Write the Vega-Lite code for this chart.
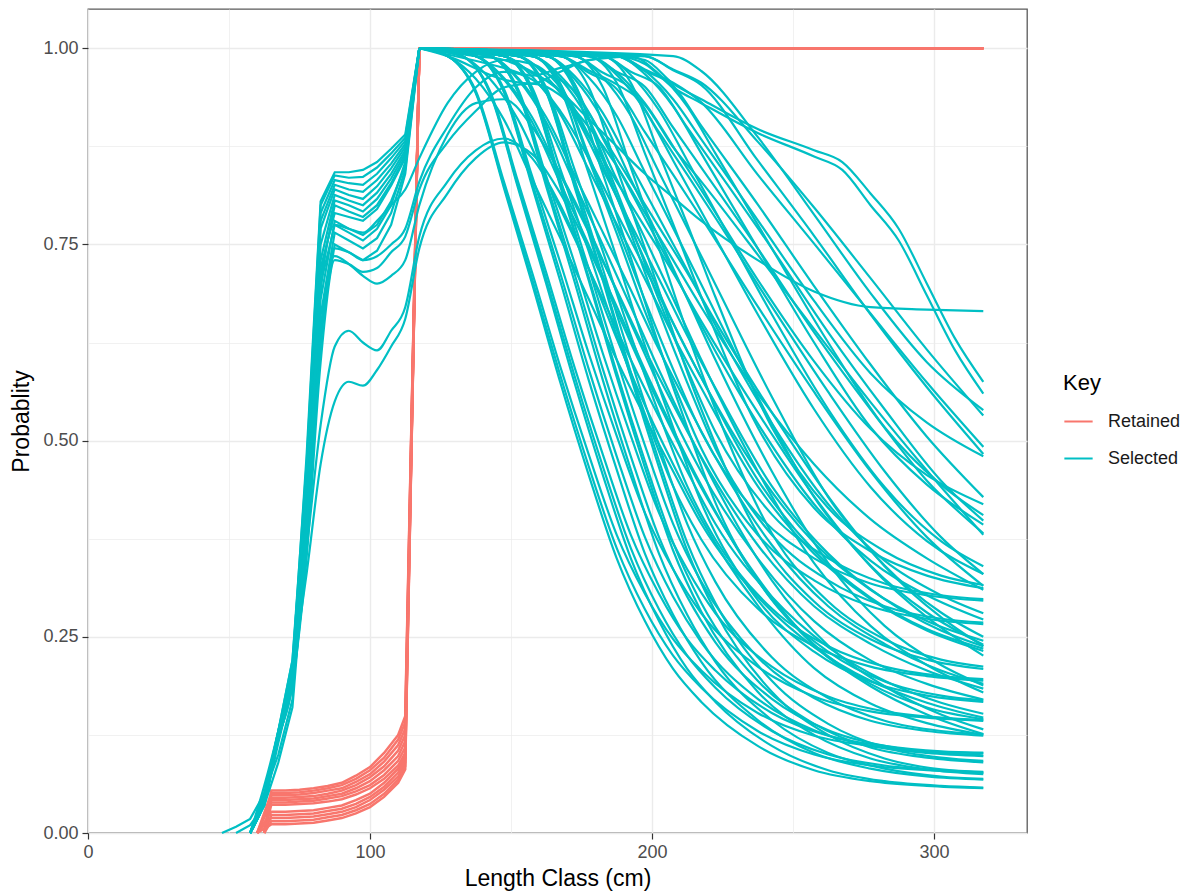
{
"$schema":"https://vega.github.io/schema/vega-lite/v6.json",
"width":939,"height":824,
"autosize":{"type":"none"},
"padding":{"left":88,"top":9,"right":165,"bottom":59},
"background":"white",
"config":{
"view":{"stroke":"#5a5a5a","strokeWidth":1.3},
"font":"Liberation Sans",
"axis":{"labelFont":"Liberation Sans","titleFont":"Liberation Sans","labelFontSize":18,"labelColor":"#4d4d4d","titleFontSize":23,"titleFontWeight":"normal","titleColor":"#000000","tickColor":"#333333","tickWidth":1.2,"tickSize":6,"domain":false,"gridColor":"#ebebeb","labelFlush":false}
},
"datasets":{
"ret":[
{"g":1,"x":62.5,"y":0},{"g":1,"x":65,"y":0.054},{"g":1,"x":70,"y":0.054},{"g":1,"x":75,"y":0.055},{"g":1,"x":80,"y":0.057},{"g":1,"x":85,"y":0.06},{"g":1,"x":90,"y":0.064},{"g":1,"x":95,"y":0.073},{"g":1,"x":100,"y":0.084},{"g":1,"x":105,"y":0.102},{"g":1,"x":110,"y":0.125},{"g":1,"x":112.5,"y":0.149},{"g":1,"x":117.5,"y":1},{"g":1,"x":317.5,"y":1},
{"g":2,"x":60,"y":0},{"g":2,"x":65,"y":0.051},{"g":2,"x":70,"y":0.051},{"g":2,"x":75,"y":0.052},{"g":2,"x":80,"y":0.054},{"g":2,"x":85,"y":0.057},{"g":2,"x":90,"y":0.061},{"g":2,"x":95,"y":0.069},{"g":2,"x":100,"y":0.08},{"g":2,"x":105,"y":0.096},{"g":2,"x":110,"y":0.119},{"g":2,"x":112.5,"y":0.141},{"g":2,"x":117.5,"y":1},{"g":2,"x":317.5,"y":1},
{"g":3,"x":62.5,"y":0},{"g":3,"x":65,"y":0.048},{"g":3,"x":70,"y":0.048},{"g":3,"x":75,"y":0.049},{"g":3,"x":80,"y":0.051},{"g":3,"x":85,"y":0.054},{"g":3,"x":90,"y":0.057},{"g":3,"x":95,"y":0.065},{"g":3,"x":100,"y":0.075},{"g":3,"x":105,"y":0.091},{"g":3,"x":110,"y":0.112},{"g":3,"x":112.5,"y":0.133},{"g":3,"x":117.5,"y":1},{"g":3,"x":317.5,"y":1},
{"g":4,"x":60,"y":0},{"g":4,"x":65,"y":0.045},{"g":4,"x":70,"y":0.045},{"g":4,"x":75,"y":0.046},{"g":4,"x":80,"y":0.047},{"g":4,"x":85,"y":0.05},{"g":4,"x":90,"y":0.054},{"g":4,"x":95,"y":0.061},{"g":4,"x":100,"y":0.071},{"g":4,"x":105,"y":0.085},{"g":4,"x":110,"y":0.105},{"g":4,"x":112.5,"y":0.125},{"g":4,"x":117.5,"y":1},{"g":4,"x":317.5,"y":1},
{"g":5,"x":62.5,"y":0},{"g":5,"x":65,"y":0.042},{"g":5,"x":70,"y":0.042},{"g":5,"x":75,"y":0.043},{"g":5,"x":80,"y":0.044},{"g":5,"x":85,"y":0.047},{"g":5,"x":90,"y":0.05},{"g":5,"x":95,"y":0.057},{"g":5,"x":100,"y":0.066},{"g":5,"x":105,"y":0.08},{"g":5,"x":110,"y":0.098},{"g":5,"x":112.5,"y":0.117},{"g":5,"x":117.5,"y":1},{"g":5,"x":317.5,"y":1},
{"g":6,"x":60,"y":0},{"g":6,"x":65,"y":0.039},{"g":6,"x":70,"y":0.039},{"g":6,"x":75,"y":0.04},{"g":6,"x":80,"y":0.041},{"g":6,"x":85,"y":0.044},{"g":6,"x":90,"y":0.047},{"g":6,"x":95,"y":0.053},{"g":6,"x":100,"y":0.061},{"g":6,"x":105,"y":0.074},{"g":6,"x":110,"y":0.092},{"g":6,"x":112.5,"y":0.109},{"g":6,"x":117.5,"y":1},{"g":6,"x":317.5,"y":1},
{"g":7,"x":62.5,"y":0},{"g":7,"x":65,"y":0.036},{"g":7,"x":70,"y":0.036},{"g":7,"x":75,"y":0.037},{"g":7,"x":80,"y":0.038},{"g":7,"x":85,"y":0.04},{"g":7,"x":90,"y":0.043},{"g":7,"x":95,"y":0.049},{"g":7,"x":100,"y":0.057},{"g":7,"x":105,"y":0.069},{"g":7,"x":110,"y":0.086},{"g":7,"x":112.5,"y":0.102},{"g":7,"x":117.5,"y":1},{"g":7,"x":317.5,"y":1},
{"g":8,"x":60,"y":0},{"g":8,"x":65,"y":0.027},{"g":8,"x":70,"y":0.027},{"g":8,"x":75,"y":0.028},{"g":8,"x":80,"y":0.029},{"g":8,"x":85,"y":0.032},{"g":8,"x":90,"y":0.035},{"g":8,"x":95,"y":0.042},{"g":8,"x":100,"y":0.05},{"g":8,"x":105,"y":0.064},{"g":8,"x":110,"y":0.082},{"g":8,"x":112.5,"y":0.1},{"g":8,"x":117.5,"y":1},{"g":8,"x":317.5,"y":1},
{"g":9,"x":62.5,"y":0},{"g":9,"x":65,"y":0.023},{"g":9,"x":70,"y":0.023},{"g":9,"x":75,"y":0.024},{"g":9,"x":80,"y":0.025},{"g":9,"x":85,"y":0.028},{"g":9,"x":90,"y":0.031},{"g":9,"x":95,"y":0.037},{"g":9,"x":100,"y":0.046},{"g":9,"x":105,"y":0.059},{"g":9,"x":110,"y":0.077},{"g":9,"x":112.5,"y":0.095},{"g":9,"x":117.5,"y":1},{"g":9,"x":317.5,"y":1},
{"g":10,"x":60,"y":0},{"g":10,"x":65,"y":0.019},{"g":10,"x":70,"y":0.019},{"g":10,"x":75,"y":0.02},{"g":10,"x":80,"y":0.021},{"g":10,"x":85,"y":0.024},{"g":10,"x":90,"y":0.027},{"g":10,"x":95,"y":0.033},{"g":10,"x":100,"y":0.042},{"g":10,"x":105,"y":0.055},{"g":10,"x":110,"y":0.072},{"g":10,"x":112.5,"y":0.09},{"g":10,"x":117.5,"y":1},{"g":10,"x":317.5,"y":1},
{"g":11,"x":62.5,"y":0},{"g":11,"x":65,"y":0.015},{"g":11,"x":70,"y":0.015},{"g":11,"x":75,"y":0.016},{"g":11,"x":80,"y":0.017},{"g":11,"x":85,"y":0.02},{"g":11,"x":90,"y":0.023},{"g":11,"x":95,"y":0.029},{"g":11,"x":100,"y":0.037},{"g":11,"x":105,"y":0.05},{"g":11,"x":110,"y":0.068},{"g":11,"x":112.5,"y":0.085},{"g":11,"x":117.5,"y":1},{"g":11,"x":317.5,"y":1},
{"g":12,"x":60,"y":0},{"g":12,"x":65,"y":0.011},{"g":12,"x":70,"y":0.011},{"g":12,"x":75,"y":0.012},{"g":12,"x":80,"y":0.013},{"g":12,"x":85,"y":0.016},{"g":12,"x":90,"y":0.019},{"g":12,"x":95,"y":0.025},{"g":12,"x":100,"y":0.033},{"g":12,"x":105,"y":0.046},{"g":12,"x":110,"y":0.064},{"g":12,"x":112.5,"y":0.081},{"g":12,"x":117.5,"y":1},{"g":12,"x":317.5,"y":1}
],
"left":[
{"g":1,"x":57.5,"y":0},{"g":1,"x":62.5,"y":0.04},{"g":1,"x":67.5,"y":0.125},{"g":1,"x":72.5,"y":0.21},{"g":1,"x":77.5,"y":0.48},{"g":1,"x":82.5,"y":0.805},{"g":1,"x":87.5,"y":0.842},{"g":1,"x":92.5,"y":0.842},{"g":1,"x":97.5,"y":0.845},{"g":1,"x":102.5,"y":0.855},{"g":1,"x":107.5,"y":0.872},{"g":1,"x":112.5,"y":0.89},{"g":1,"x":117.5,"y":1},
{"g":2,"x":57.5,"y":0},{"g":2,"x":62.5,"y":0.045},{"g":2,"x":67.5,"y":0.13},{"g":2,"x":72.5,"y":0.22},{"g":2,"x":77.5,"y":0.47},{"g":2,"x":82.5,"y":0.8},{"g":2,"x":87.5,"y":0.838},{"g":2,"x":92.5,"y":0.835},{"g":2,"x":97.5,"y":0.836},{"g":2,"x":102.5,"y":0.848},{"g":2,"x":107.5,"y":0.866},{"g":2,"x":112.5,"y":0.886},{"g":2,"x":117.5,"y":1},
{"g":3,"x":57.5,"y":0},{"g":3,"x":62.5,"y":0.035},{"g":3,"x":67.5,"y":0.12},{"g":3,"x":72.5,"y":0.2},{"g":3,"x":77.5,"y":0.46},{"g":3,"x":82.5,"y":0.79},{"g":3,"x":87.5,"y":0.832},{"g":3,"x":92.5,"y":0.828},{"g":3,"x":97.5,"y":0.826},{"g":3,"x":102.5,"y":0.84},{"g":3,"x":107.5,"y":0.86},{"g":3,"x":112.5,"y":0.882},{"g":3,"x":117.5,"y":1},
{"g":4,"x":57.5,"y":0},{"g":4,"x":62.5,"y":0.05},{"g":4,"x":67.5,"y":0.13},{"g":4,"x":72.5,"y":0.22},{"g":4,"x":77.5,"y":0.45},{"g":4,"x":82.5,"y":0.78},{"g":4,"x":87.5,"y":0.826},{"g":4,"x":92.5,"y":0.82},{"g":4,"x":97.5,"y":0.817},{"g":4,"x":102.5,"y":0.832},{"g":4,"x":107.5,"y":0.853},{"g":4,"x":112.5,"y":0.878},{"g":4,"x":117.5,"y":1},
{"g":5,"x":57.5,"y":0},{"g":5,"x":62.5,"y":0.04},{"g":5,"x":67.5,"y":0.12},{"g":5,"x":72.5,"y":0.2},{"g":5,"x":77.5,"y":0.44},{"g":5,"x":82.5,"y":0.77},{"g":5,"x":87.5,"y":0.82},{"g":5,"x":92.5,"y":0.813},{"g":5,"x":97.5,"y":0.808},{"g":5,"x":102.5,"y":0.824},{"g":5,"x":107.5,"y":0.847},{"g":5,"x":112.5,"y":0.874},{"g":5,"x":117.5,"y":1},
{"g":6,"x":57.5,"y":0},{"g":6,"x":62.5,"y":0.045},{"g":6,"x":67.5,"y":0.125},{"g":6,"x":72.5,"y":0.21},{"g":6,"x":77.5,"y":0.43},{"g":6,"x":82.5,"y":0.75},{"g":6,"x":87.5,"y":0.813},{"g":6,"x":92.5,"y":0.806},{"g":6,"x":97.5,"y":0.8},{"g":6,"x":102.5,"y":0.816},{"g":6,"x":107.5,"y":0.84},{"g":6,"x":112.5,"y":0.87},{"g":6,"x":117.5,"y":1},
{"g":7,"x":57.5,"y":0},{"g":7,"x":62.5,"y":0.035},{"g":7,"x":67.5,"y":0.115},{"g":7,"x":72.5,"y":0.19},{"g":7,"x":77.5,"y":0.41},{"g":7,"x":82.5,"y":0.73},{"g":7,"x":87.5,"y":0.806},{"g":7,"x":92.5,"y":0.8},{"g":7,"x":97.5,"y":0.792},{"g":7,"x":102.5,"y":0.808},{"g":7,"x":107.5,"y":0.834},{"g":7,"x":112.5,"y":0.866},{"g":7,"x":117.5,"y":1},
{"g":8,"x":57.5,"y":0},{"g":8,"x":62.5,"y":0.04},{"g":8,"x":67.5,"y":0.12},{"g":8,"x":72.5,"y":0.2},{"g":8,"x":77.5,"y":0.4},{"g":8,"x":82.5,"y":0.71},{"g":8,"x":87.5,"y":0.8},{"g":8,"x":92.5,"y":0.792},{"g":8,"x":97.5,"y":0.785},{"g":8,"x":102.5,"y":0.8},{"g":8,"x":107.5,"y":0.828},{"g":8,"x":112.5,"y":0.862},{"g":8,"x":117.5,"y":1},
{"g":9,"x":57.5,"y":0},{"g":9,"x":62.5,"y":0.045},{"g":9,"x":67.5,"y":0.125},{"g":9,"x":72.5,"y":0.2},{"g":9,"x":77.5,"y":0.39},{"g":9,"x":82.5,"y":0.68},{"g":9,"x":87.5,"y":0.78},{"g":9,"x":92.5,"y":0.77},{"g":9,"x":97.5,"y":0.762},{"g":9,"x":102.5,"y":0.775},{"g":9,"x":107.5,"y":0.805},{"g":9,"x":112.5,"y":0.85},{"g":9,"x":117.5,"y":1},
{"g":10,"x":57.5,"y":0},{"g":10,"x":62.5,"y":0.04},{"g":10,"x":67.5,"y":0.12},{"g":10,"x":72.5,"y":0.19},{"g":10,"x":77.5,"y":0.38},{"g":10,"x":82.5,"y":0.66},{"g":10,"x":87.5,"y":0.765},{"g":10,"x":92.5,"y":0.755},{"g":10,"x":97.5,"y":0.745},{"g":10,"x":102.5,"y":0.758},{"g":10,"x":107.5,"y":0.79},{"g":10,"x":112.5,"y":0.845},{"g":10,"x":117.5,"y":1},
{"g":11,"x":57.5,"y":0},{"g":11,"x":62.5,"y":0.045},{"g":11,"x":67.5,"y":0.12},{"g":11,"x":72.5,"y":0.19},{"g":11,"x":77.5,"y":0.37},{"g":11,"x":82.5,"y":0.64},{"g":11,"x":87.5,"y":0.75},{"g":11,"x":92.5,"y":0.74},{"g":11,"x":97.5,"y":0.73},{"g":11,"x":102.5,"y":0.742},{"g":11,"x":107.5,"y":0.775},{"g":11,"x":112.5,"y":0.84},{"g":11,"x":117.5,"y":1},
{"g":12,"x":47.5,"y":0},{"g":12,"x":52.5,"y":0.008},{"g":12,"x":57.5,"y":0.018},{"g":12,"x":62.5,"y":0.05},{"g":12,"x":67.5,"y":0.1},{"g":12,"x":72.5,"y":0.17},{"g":12,"x":77.5,"y":0.4},{"g":12,"x":82.5,"y":0.72},{"g":12,"x":87.5,"y":0.79},{"g":12,"x":92.5,"y":0.785},{"g":12,"x":97.5,"y":0.78},{"g":12,"x":102.5,"y":0.795},{"g":12,"x":107.5,"y":0.825},{"g":12,"x":112.5,"y":0.86},{"g":12,"x":117.5,"y":1},
{"g":13,"x":52.5,"y":0},{"g":13,"x":57.5,"y":0.01},{"g":13,"x":62.5,"y":0.035},{"g":13,"x":67.5,"y":0.09},{"g":13,"x":72.5,"y":0.16},{"g":13,"x":77.5,"y":0.38},{"g":13,"x":82.5,"y":0.7},{"g":13,"x":87.5,"y":0.775},{"g":13,"x":92.5,"y":0.765},{"g":13,"x":97.5,"y":0.755},{"g":13,"x":102.5,"y":0.77},{"g":13,"x":107.5,"y":0.8},{"g":13,"x":112.5,"y":0.855},{"g":13,"x":117.5,"y":1}
],
"full":[
{"g":1,"x":57.5,"y":0},{"g":1,"x":62.5,"y":0.04},{"g":1,"x":67.5,"y":0.12},{"g":1,"x":72.5,"y":0.19},{"g":1,"x":77.5,"y":0.37},{"g":1,"x":82.5,"y":0.64},{"g":1,"x":87.5,"y":0.735},{"g":1,"x":92.5,"y":0.725},{"g":1,"x":97.5,"y":0.71},{"g":1,"x":102.5,"y":0.7},{"g":1,"x":107.5,"y":0.71},{"g":1,"x":112.5,"y":0.73},{"g":1,"x":117.5,"y":0.8},{"g":1,"x":127.5,"y":0.89},{"g":1,"x":137.5,"y":0.93},{"g":1,"x":147.5,"y":0.935},{"g":1,"x":157.5,"y":0.9},{"g":1,"x":167.5,"y":0.84},{"g":1,"x":177.5,"y":0.77},{"g":1,"x":187.5,"y":0.69},{"g":1,"x":197.5,"y":0.61},{"g":1,"x":207.5,"y":0.53},{"g":1,"x":217.5,"y":0.46},{"g":1,"x":237.5,"y":0.35},{"g":1,"x":257.5,"y":0.27},{"g":1,"x":277.5,"y":0.22},{"g":1,"x":297.5,"y":0.19},{"g":1,"x":317.5,"y":0.17},
{"g":2,"x":57.5,"y":0},{"g":2,"x":62.5,"y":0.04},{"g":2,"x":67.5,"y":0.12},{"g":2,"x":72.5,"y":0.19},{"g":2,"x":77.5,"y":0.36},{"g":2,"x":82.5,"y":0.62},{"g":2,"x":87.5,"y":0.745},{"g":2,"x":92.5,"y":0.74},{"g":2,"x":97.5,"y":0.73},{"g":2,"x":102.5,"y":0.735},{"g":2,"x":107.5,"y":0.75},{"g":2,"x":112.5,"y":0.77},{"g":2,"x":117.5,"y":0.83},{"g":2,"x":127.5,"y":0.9},{"g":2,"x":137.5,"y":0.95},{"g":2,"x":147.5,"y":0.97},{"g":2,"x":157.5,"y":0.96},{"g":2,"x":167.5,"y":0.92},{"g":2,"x":177.5,"y":0.86},{"g":2,"x":187.5,"y":0.79},{"g":2,"x":197.5,"y":0.72},{"g":2,"x":207.5,"y":0.65},{"g":2,"x":217.5,"y":0.58},{"g":2,"x":237.5,"y":0.46},{"g":2,"x":257.5,"y":0.37},{"g":2,"x":277.5,"y":0.31},{"g":2,"x":297.5,"y":0.27},{"g":2,"x":317.5,"y":0.245},
{"g":3,"x":57.5,"y":0},{"g":3,"x":62.5,"y":0.04},{"g":3,"x":67.5,"y":0.12},{"g":3,"x":72.5,"y":0.19},{"g":3,"x":77.5,"y":0.35},{"g":3,"x":82.5,"y":0.6},{"g":3,"x":87.5,"y":0.73},{"g":3,"x":92.5,"y":0.725},{"g":3,"x":97.5,"y":0.715},{"g":3,"x":102.5,"y":0.72},{"g":3,"x":107.5,"y":0.74},{"g":3,"x":112.5,"y":0.76},{"g":3,"x":117.5,"y":0.82},{"g":3,"x":127.5,"y":0.88},{"g":3,"x":137.5,"y":0.92},{"g":3,"x":147.5,"y":0.95},{"g":3,"x":157.5,"y":0.955},{"g":3,"x":167.5,"y":0.94},{"g":3,"x":177.5,"y":0.9},{"g":3,"x":187.5,"y":0.85},{"g":3,"x":197.5,"y":0.79},{"g":3,"x":207.5,"y":0.73},{"g":3,"x":217.5,"y":0.67},{"g":3,"x":237.5,"y":0.56},{"g":3,"x":257.5,"y":0.47},{"g":3,"x":277.5,"y":0.4},{"g":3,"x":297.5,"y":0.35},{"g":3,"x":317.5,"y":0.31},
{"g":4,"x":57.5,"y":0},{"g":4,"x":62.5,"y":0.05},{"g":4,"x":67.5,"y":0.13},{"g":4,"x":72.5,"y":0.21},{"g":4,"x":77.5,"y":0.36},{"g":4,"x":82.5,"y":0.52},{"g":4,"x":87.5,"y":0.62},{"g":4,"x":92.5,"y":0.64},{"g":4,"x":97.5,"y":0.625},{"g":4,"x":102.5,"y":0.615},{"g":4,"x":107.5,"y":0.64},{"g":4,"x":112.5,"y":0.67},{"g":4,"x":117.5,"y":0.76},{"g":4,"x":127.5,"y":0.83},{"g":4,"x":137.5,"y":0.87},{"g":4,"x":147.5,"y":0.885},{"g":4,"x":157.5,"y":0.86},{"g":4,"x":167.5,"y":0.8},{"g":4,"x":177.5,"y":0.72},{"g":4,"x":187.5,"y":0.63},{"g":4,"x":197.5,"y":0.545},{"g":4,"x":207.5,"y":0.47},{"g":4,"x":217.5,"y":0.4},{"g":4,"x":237.5,"y":0.29},{"g":4,"x":257.5,"y":0.21},{"g":4,"x":277.5,"y":0.165},{"g":4,"x":297.5,"y":0.14},{"g":4,"x":317.5,"y":0.125},
{"g":5,"x":57.5,"y":0},{"g":5,"x":62.5,"y":0.06},{"g":5,"x":67.5,"y":0.13},{"g":5,"x":72.5,"y":0.21},{"g":5,"x":77.5,"y":0.33},{"g":5,"x":82.5,"y":0.47},{"g":5,"x":87.5,"y":0.55},{"g":5,"x":92.5,"y":0.575},{"g":5,"x":97.5,"y":0.57},{"g":5,"x":102.5,"y":0.59},{"g":5,"x":107.5,"y":0.62},{"g":5,"x":112.5,"y":0.655},{"g":5,"x":117.5,"y":0.745},{"g":5,"x":127.5,"y":0.815},{"g":5,"x":137.5,"y":0.86},{"g":5,"x":147.5,"y":0.88},{"g":5,"x":157.5,"y":0.865},{"g":5,"x":167.5,"y":0.815},{"g":5,"x":177.5,"y":0.745},{"g":5,"x":187.5,"y":0.665},{"g":5,"x":197.5,"y":0.585},{"g":5,"x":207.5,"y":0.51},{"g":5,"x":217.5,"y":0.44},{"g":5,"x":237.5,"y":0.325},{"g":5,"x":257.5,"y":0.24},{"g":5,"x":277.5,"y":0.19},{"g":5,"x":297.5,"y":0.16},{"g":5,"x":317.5,"y":0.145},
{"g":6,"x":57.5,"y":0},{"g":6,"x":62.5,"y":0.045},{"g":6,"x":67.5,"y":0.125},{"g":6,"x":72.5,"y":0.2},{"g":6,"x":77.5,"y":0.39},{"g":6,"x":82.5,"y":0.69},{"g":6,"x":87.5,"y":0.775},{"g":6,"x":92.5,"y":0.77},{"g":6,"x":97.5,"y":0.765},{"g":6,"x":102.5,"y":0.78},{"g":6,"x":107.5,"y":0.8},{"g":6,"x":112.5,"y":0.82},{"g":6,"x":117.5,"y":0.86},{"g":6,"x":127.5,"y":0.93},{"g":6,"x":137.5,"y":0.97},{"g":6,"x":147.5,"y":0.985},{"g":6,"x":157.5,"y":0.98},{"g":6,"x":167.5,"y":0.95},{"g":6,"x":177.5,"y":0.89},{"g":6,"x":187.5,"y":0.81},{"g":6,"x":197.5,"y":0.73},{"g":6,"x":207.5,"y":0.65},{"g":6,"x":217.5,"y":0.58},{"g":6,"x":237.5,"y":0.45},{"g":6,"x":257.5,"y":0.36},{"g":6,"x":277.5,"y":0.3},{"g":6,"x":297.5,"y":0.26},{"g":6,"x":317.5,"y":0.235}
],
"right":[
{"g":1,"x":117.5,"y":1},{"g":1,"x":127.5,"y":0.99},{"g":1,"x":137.5,"y":0.943},{"g":1,"x":147.5,"y":0.822},{"g":1,"x":157.5,"y":0.7},{"g":1,"x":167.5,"y":0.574},{"g":1,"x":177.5,"y":0.457},{"g":1,"x":187.5,"y":0.35},{"g":1,"x":197.5,"y":0.27},{"g":1,"x":207.5,"y":0.209},{"g":1,"x":217.5,"y":0.167},{"g":1,"x":237.5,"y":0.111},{"g":1,"x":257.5,"y":0.08},{"g":1,"x":277.5,"y":0.066},{"g":1,"x":297.5,"y":0.06},{"g":1,"x":317.5,"y":0.057},
{"g":2,"x":117.5,"y":1},{"g":2,"x":127.5,"y":0.99},{"g":2,"x":137.5,"y":0.944},{"g":2,"x":147.5,"y":0.825},{"g":2,"x":157.5,"y":0.706},{"g":2,"x":167.5,"y":0.583},{"g":2,"x":177.5,"y":0.468},{"g":2,"x":187.5,"y":0.363},{"g":2,"x":197.5,"y":0.285},{"g":2,"x":207.5,"y":0.226},{"g":2,"x":217.5,"y":0.185},{"g":2,"x":237.5,"y":0.13},{"g":2,"x":257.5,"y":0.1},{"g":2,"x":277.5,"y":0.086},{"g":2,"x":297.5,"y":0.08},{"g":2,"x":317.5,"y":0.077},
{"g":3,"x":117.5,"y":1},{"g":3,"x":137.5,"y":0.99},{"g":3,"x":147.5,"y":0.944},{"g":3,"x":157.5,"y":0.824},{"g":3,"x":167.5,"y":0.703},{"g":3,"x":177.5,"y":0.578},{"g":3,"x":187.5,"y":0.463},{"g":3,"x":197.5,"y":0.356},{"g":3,"x":207.5,"y":0.278},{"g":3,"x":217.5,"y":0.218},{"g":3,"x":237.5,"y":0.144},{"g":3,"x":257.5,"y":0.102},{"g":3,"x":277.5,"y":0.082},{"g":3,"x":297.5,"y":0.072},{"g":3,"x":317.5,"y":0.068},
{"g":4,"x":117.5,"y":1},{"g":4,"x":137.5,"y":0.99},{"g":4,"x":147.5,"y":0.945},{"g":4,"x":157.5,"y":0.829},{"g":4,"x":167.5,"y":0.713},{"g":4,"x":177.5,"y":0.592},{"g":4,"x":187.5,"y":0.48},{"g":4,"x":197.5,"y":0.377},{"g":4,"x":207.5,"y":0.301},{"g":4,"x":217.5,"y":0.243},{"g":4,"x":237.5,"y":0.171},{"g":4,"x":257.5,"y":0.131},{"g":4,"x":277.5,"y":0.111},{"g":4,"x":297.5,"y":0.102},{"g":4,"x":317.5,"y":0.098},
{"g":5,"x":117.5,"y":1},{"g":5,"x":147.5,"y":0.99},{"g":5,"x":157.5,"y":0.945},{"g":5,"x":167.5,"y":0.827},{"g":5,"x":177.5,"y":0.709},{"g":5,"x":187.5,"y":0.587},{"g":5,"x":197.5,"y":0.474},{"g":5,"x":207.5,"y":0.37},{"g":5,"x":217.5,"y":0.293},{"g":5,"x":237.5,"y":0.194},{"g":5,"x":257.5,"y":0.139},{"g":5,"x":277.5,"y":0.109},{"g":5,"x":297.5,"y":0.096},{"g":5,"x":317.5,"y":0.09},
{"g":6,"x":117.5,"y":1},{"g":6,"x":147.5,"y":0.99},{"g":6,"x":157.5,"y":0.947},{"g":6,"x":167.5,"y":0.833},{"g":6,"x":177.5,"y":0.72},{"g":6,"x":187.5,"y":0.603},{"g":6,"x":197.5,"y":0.494},{"g":6,"x":207.5,"y":0.394},{"g":6,"x":217.5,"y":0.32},{"g":6,"x":237.5,"y":0.224},{"g":6,"x":257.5,"y":0.172},{"g":6,"x":277.5,"y":0.143},{"g":6,"x":297.5,"y":0.13},{"g":6,"x":317.5,"y":0.124},
{"g":7,"x":117.5,"y":1},{"g":7,"x":127.5,"y":0.99},{"g":7,"x":137.5,"y":0.961},{"g":7,"x":147.5,"y":0.909},{"g":7,"x":157.5,"y":0.833},{"g":7,"x":167.5,"y":0.758},{"g":7,"x":177.5,"y":0.681},{"g":7,"x":187.5,"y":0.603},{"g":7,"x":197.5,"y":0.53},{"g":7,"x":207.5,"y":0.461},{"g":7,"x":217.5,"y":0.394},{"g":7,"x":237.5,"y":0.301},{"g":7,"x":257.5,"y":0.237},{"g":7,"x":277.5,"y":0.194},{"g":7,"x":297.5,"y":0.166},{"g":7,"x":317.5,"y":0.147},
{"g":8,"x":117.5,"y":1},{"g":8,"x":137.5,"y":0.99},{"g":8,"x":147.5,"y":0.962},{"g":8,"x":157.5,"y":0.912},{"g":8,"x":167.5,"y":0.839},{"g":8,"x":177.5,"y":0.766},{"g":8,"x":187.5,"y":0.692},{"g":8,"x":197.5,"y":0.616},{"g":8,"x":207.5,"y":0.546},{"g":8,"x":217.5,"y":0.479},{"g":8,"x":237.5,"y":0.367},{"g":8,"x":257.5,"y":0.289},{"g":8,"x":277.5,"y":0.241},{"g":8,"x":297.5,"y":0.207},{"g":8,"x":317.5,"y":0.184},
{"g":9,"x":117.5,"y":1},{"g":9,"x":157.5,"y":0.99},{"g":9,"x":167.5,"y":0.949},{"g":9,"x":177.5,"y":0.841},{"g":9,"x":187.5,"y":0.733},{"g":9,"x":197.5,"y":0.621},{"g":9,"x":207.5,"y":0.517},{"g":9,"x":217.5,"y":0.421},{"g":9,"x":237.5,"y":0.297},{"g":9,"x":257.5,"y":0.231},{"g":9,"x":277.5,"y":0.193},{"g":9,"x":297.5,"y":0.175},{"g":9,"x":317.5,"y":0.167},
{"g":10,"x":117.5,"y":1},{"g":10,"x":147.5,"y":0.99},{"g":10,"x":157.5,"y":0.964},{"g":10,"x":167.5,"y":0.916},{"g":10,"x":177.5,"y":0.846},{"g":10,"x":187.5,"y":0.776},{"g":10,"x":197.5,"y":0.706},{"g":10,"x":207.5,"y":0.634},{"g":10,"x":217.5,"y":0.567},{"g":10,"x":237.5,"y":0.442},{"g":10,"x":257.5,"y":0.356},{"g":10,"x":277.5,"y":0.298},{"g":10,"x":297.5,"y":0.258},{"g":10,"x":317.5,"y":0.232},
{"g":11,"x":117.5,"y":1},{"g":11,"x":137.5,"y":0.99},{"g":11,"x":147.5,"y":0.948},{"g":11,"x":157.5,"y":0.837},{"g":11,"x":167.5,"y":0.727},{"g":11,"x":177.5,"y":0.612},{"g":11,"x":187.5,"y":0.506},{"g":11,"x":197.5,"y":0.408},{"g":11,"x":207.5,"y":0.336},{"g":11,"x":217.5,"y":0.28},{"g":11,"x":237.5,"y":0.212},{"g":11,"x":257.5,"y":0.174},{"g":11,"x":277.5,"y":0.155},{"g":11,"x":297.5,"y":0.147},{"g":11,"x":317.5,"y":0.143},
{"g":12,"x":117.5,"y":1},{"g":12,"x":167.5,"y":0.99},{"g":12,"x":177.5,"y":0.951},{"g":12,"x":187.5,"y":0.848},{"g":12,"x":197.5,"y":0.745},{"g":12,"x":207.5,"y":0.638},{"g":12,"x":217.5,"y":0.54},{"g":12,"x":237.5,"y":0.382},{"g":12,"x":257.5,"y":0.295},{"g":12,"x":277.5,"y":0.247},{"g":12,"x":297.5,"y":0.221},{"g":12,"x":317.5,"y":0.209},
{"g":13,"x":117.5,"y":1},{"g":13,"x":157.5,"y":0.99},{"g":13,"x":167.5,"y":0.965},{"g":13,"x":177.5,"y":0.918},{"g":13,"x":187.5,"y":0.851},{"g":13,"x":197.5,"y":0.784},{"g":13,"x":207.5,"y":0.717},{"g":13,"x":217.5,"y":0.647},{"g":13,"x":237.5,"y":0.522},{"g":13,"x":257.5,"y":0.419},{"g":13,"x":277.5,"y":0.347},{"g":13,"x":297.5,"y":0.303},{"g":13,"x":317.5,"y":0.272},
{"g":14,"x":117.5,"y":1},{"g":14,"x":147.5,"y":0.99},{"g":14,"x":157.5,"y":0.968},{"g":14,"x":167.5,"y":0.946},{"g":14,"x":177.5,"y":0.888},{"g":14,"x":187.5,"y":0.83},{"g":14,"x":197.5,"y":0.772},{"g":14,"x":207.5,"y":0.714},{"g":14,"x":217.5,"y":0.652},{"g":14,"x":237.5,"y":0.536},{"g":14,"x":257.5,"y":0.429},{"g":14,"x":277.5,"y":0.34},{"g":14,"x":297.5,"y":0.275},{"g":14,"x":317.5,"y":0.226},
{"g":15,"x":117.5,"y":1},{"g":15,"x":177.5,"y":0.99},{"g":15,"x":187.5,"y":0.966},{"g":15,"x":197.5,"y":0.921},{"g":15,"x":207.5,"y":0.857},{"g":15,"x":217.5,"y":0.792},{"g":15,"x":237.5,"y":0.661},{"g":15,"x":257.5,"y":0.54},{"g":15,"x":277.5,"y":0.441},{"g":15,"x":297.5,"y":0.372},{"g":15,"x":317.5,"y":0.33},
{"g":16,"x":117.5,"y":1},{"g":16,"x":167.5,"y":0.99},{"g":16,"x":177.5,"y":0.969},{"g":16,"x":187.5,"y":0.948},{"g":16,"x":197.5,"y":0.893},{"g":16,"x":207.5,"y":0.839},{"g":16,"x":217.5,"y":0.784},{"g":16,"x":237.5,"y":0.671},{"g":16,"x":257.5,"y":0.562},{"g":16,"x":277.5,"y":0.461},{"g":16,"x":297.5,"y":0.377},{"g":16,"x":317.5,"y":0.315},
{"g":17,"x":117.5,"y":1},{"g":17,"x":187.5,"y":0.99},{"g":17,"x":197.5,"y":0.967},{"g":17,"x":207.5,"y":0.926},{"g":17,"x":217.5,"y":0.866},{"g":17,"x":237.5,"y":0.745},{"g":17,"x":257.5,"y":0.625},{"g":17,"x":277.5,"y":0.517},{"g":17,"x":297.5,"y":0.444},{"g":17,"x":317.5,"y":0.393},
{"g":18,"x":117.5,"y":1},{"g":18,"x":177.5,"y":0.99},{"g":18,"x":187.5,"y":0.97},{"g":18,"x":197.5,"y":0.951},{"g":18,"x":207.5,"y":0.899},{"g":18,"x":217.5,"y":0.848},{"g":18,"x":237.5,"y":0.745},{"g":18,"x":257.5,"y":0.638},{"g":18,"x":277.5,"y":0.54},{"g":18,"x":297.5,"y":0.449},{"g":18,"x":317.5,"y":0.382},
{"g":19,"x":117.5,"y":1},{"g":19,"x":127.5,"y":0.99},{"g":19,"x":147.5,"y":0.96},{"g":19,"x":157.5,"y":0.955},{"g":19,"x":167.5,"y":0.97},{"g":19,"x":177.5,"y":0.985},{"g":19,"x":197.5,"y":0.99},{"g":19,"x":207.5,"y":0.972},{"g":19,"x":217.5,"y":0.953},{"g":19,"x":237.5,"y":0.857},{"g":19,"x":257.5,"y":0.761},{"g":19,"x":277.5,"y":0.661},{"g":19,"x":297.5,"y":0.568},{"g":19,"x":317.5,"y":0.483},
{"g":20,"x":117.5,"y":1},{"g":20,"x":147.5,"y":0.975},{"g":20,"x":157.5,"y":0.965},{"g":20,"x":167.5,"y":0.975},{"g":20,"x":187.5,"y":0.99},{"g":20,"x":197.5,"y":0.973},{"g":20,"x":207.5,"y":0.956},{"g":20,"x":217.5,"y":0.931},{"g":20,"x":237.5,"y":0.839},{"g":20,"x":257.5,"y":0.751},{"g":20,"x":277.5,"y":0.662},{"g":20,"x":297.5,"y":0.574},{"g":20,"x":317.5,"y":0.492},
{"g":21,"x":117.5,"y":1},{"g":21,"x":157.5,"y":0.99},{"g":21,"x":167.5,"y":0.954},{"g":21,"x":177.5,"y":0.859},{"g":21,"x":187.5,"y":0.764},{"g":21,"x":197.5,"y":0.665},{"g":21,"x":207.5,"y":0.574},{"g":21,"x":217.5,"y":0.49},{"g":21,"x":237.5,"y":0.38},{"g":21,"x":257.5,"y":0.322},{"g":21,"x":277.5,"y":0.289},{"g":21,"x":297.5,"y":0.273},{"g":21,"x":317.5,"y":0.266},
{"g":22,"x":117.5,"y":1},{"g":22,"x":137.5,"y":0.99},{"g":22,"x":147.5,"y":0.96},{"g":22,"x":157.5,"y":0.906},{"g":22,"x":167.5,"y":0.828},{"g":22,"x":177.5,"y":0.75},{"g":22,"x":187.5,"y":0.671},{"g":22,"x":197.5,"y":0.59},{"g":22,"x":207.5,"y":0.514},{"g":22,"x":217.5,"y":0.443},{"g":22,"x":237.5,"y":0.322},{"g":22,"x":257.5,"y":0.239},{"g":22,"x":277.5,"y":0.187},{"g":22,"x":297.5,"y":0.151},{"g":22,"x":317.5,"y":0.126},
{"g":23,"x":117.5,"y":1},{"g":23,"x":167.5,"y":0.99},{"g":23,"x":177.5,"y":0.963},{"g":23,"x":187.5,"y":0.914},{"g":23,"x":197.5,"y":0.842},{"g":23,"x":207.5,"y":0.771},{"g":23,"x":217.5,"y":0.699},{"g":23,"x":237.5,"y":0.556},{"g":23,"x":257.5,"y":0.428},{"g":23,"x":277.5,"y":0.341},{"g":23,"x":297.5,"y":0.281},{"g":23,"x":317.5,"y":0.24},
{"g":24,"x":117.5,"y":1},{"g":24,"x":147.5,"y":0.99},{"g":24,"x":157.5,"y":0.944},{"g":24,"x":167.5,"y":0.824},{"g":24,"x":177.5,"y":0.705},{"g":24,"x":187.5,"y":0.581},{"g":24,"x":197.5,"y":0.466},{"g":24,"x":207.5,"y":0.36},{"g":24,"x":217.5,"y":0.282},{"g":24,"x":237.5,"y":0.18},{"g":24,"x":257.5,"y":0.125},{"g":24,"x":277.5,"y":0.095},{"g":24,"x":297.5,"y":0.081},{"g":24,"x":317.5,"y":0.075},
{"g":25,"x":117.5,"y":1},{"g":25,"x":157.5,"y":0.99},{"g":25,"x":167.5,"y":0.961},{"g":25,"x":177.5,"y":0.909},{"g":25,"x":187.5,"y":0.833},{"g":25,"x":197.5,"y":0.758},{"g":25,"x":207.5,"y":0.681},{"g":25,"x":217.5,"y":0.603},{"g":25,"x":237.5,"y":0.461},{"g":25,"x":257.5,"y":0.344},{"g":25,"x":277.5,"y":0.264},{"g":25,"x":297.5,"y":0.214},{"g":25,"x":317.5,"y":0.179},
{"g":26,"x":117.5,"y":1},{"g":26,"x":177.5,"y":0.99},{"g":26,"x":187.5,"y":0.956},{"g":26,"x":197.5,"y":0.866},{"g":26,"x":207.5,"y":0.776},{"g":26,"x":217.5,"y":0.683},{"g":26,"x":237.5,"y":0.517},{"g":26,"x":257.5,"y":0.414},{"g":26,"x":277.5,"y":0.359},{"g":26,"x":297.5,"y":0.328},{"g":26,"x":317.5,"y":0.312},
{"g":27,"x":117.5,"y":1},{"g":27,"x":207.5,"y":0.99},{"g":27,"x":217.5,"y":0.971},{"g":27,"x":237.5,"y":0.887},{"g":27,"x":257.5,"y":0.788},{"g":27,"x":277.5,"y":0.688},{"g":27,"x":297.5,"y":0.6},{"g":27,"x":317.5,"y":0.539},
{"g":28,"x":117.5,"y":1},{"g":28,"x":197.5,"y":0.99},{"g":28,"x":207.5,"y":0.973},{"g":28,"x":217.5,"y":0.956},{"g":28,"x":237.5,"y":0.881},{"g":28,"x":257.5,"y":0.797},{"g":28,"x":277.5,"y":0.707},{"g":28,"x":297.5,"y":0.616},{"g":28,"x":317.5,"y":0.532},
{"g":29,"x":117.5,"y":1},{"g":29,"x":137.5,"y":0.99},{"g":29,"x":147.5,"y":0.985},{"g":29,"x":157.5,"y":0.97},{"g":29,"x":167.5,"y":0.945},{"g":29,"x":177.5,"y":0.91},{"g":29,"x":187.5,"y":0.875},{"g":29,"x":197.5,"y":0.84},{"g":29,"x":207.5,"y":0.81},{"g":29,"x":217.5,"y":0.78},{"g":29,"x":237.5,"y":0.73},{"g":29,"x":257.5,"y":0.69},{"g":29,"x":277.5,"y":0.67},{"g":29,"x":297.5,"y":0.667},{"g":29,"x":317.5,"y":0.665},
{"g":30,"x":117.5,"y":1},{"g":30,"x":187.5,"y":0.99},{"g":30,"x":197.5,"y":0.985},{"g":30,"x":207.5,"y":0.955},{"g":30,"x":217.5,"y":0.935},{"g":30,"x":237.5,"y":0.897},{"g":30,"x":257.5,"y":0.87},{"g":30,"x":267.5,"y":0.855},{"g":30,"x":277.5,"y":0.815},{"g":30,"x":287.5,"y":0.77},{"g":30,"x":297.5,"y":0.7},{"g":30,"x":307.5,"y":0.63},{"g":30,"x":317.5,"y":0.575},
{"g":31,"x":117.5,"y":1},{"g":31,"x":187.5,"y":0.99},{"g":31,"x":197.5,"y":0.98},{"g":31,"x":207.5,"y":0.95},{"g":31,"x":217.5,"y":0.93},{"g":31,"x":237.5,"y":0.892},{"g":31,"x":257.5,"y":0.862},{"g":31,"x":267.5,"y":0.845},{"g":31,"x":277.5,"y":0.8},{"g":31,"x":287.5,"y":0.755},{"g":31,"x":297.5,"y":0.685},{"g":31,"x":307.5,"y":0.615},{"g":31,"x":317.5,"y":0.56},
{"g":32,"x":117.5,"y":1},{"g":32,"x":187.5,"y":0.99},{"g":32,"x":197.5,"y":0.971},{"g":32,"x":207.5,"y":0.952},{"g":32,"x":217.5,"y":0.901},{"g":32,"x":237.5,"y":0.801},{"g":32,"x":257.5,"y":0.697},{"g":32,"x":277.5,"y":0.597},{"g":32,"x":297.5,"y":0.505},{"g":32,"x":317.5,"y":0.428},
{"g":33,"x":117.5,"y":1},{"g":33,"x":167.5,"y":0.99},{"g":33,"x":177.5,"y":0.972},{"g":33,"x":187.5,"y":0.954},{"g":33,"x":197.5,"y":0.928},{"g":33,"x":207.5,"y":0.874},{"g":33,"x":217.5,"y":0.83},{"g":33,"x":237.5,"y":0.737},{"g":33,"x":257.5,"y":0.642},{"g":33,"x":277.5,"y":0.549},{"g":33,"x":297.5,"y":0.462},{"g":33,"x":317.5,"y":0.38},
{"g":34,"x":117.5,"y":1},{"g":34,"x":157.5,"y":0.99},{"g":34,"x":167.5,"y":0.955},{"g":34,"x":177.5,"y":0.864},{"g":34,"x":187.5,"y":0.773},{"g":34,"x":197.5,"y":0.679},{"g":34,"x":207.5,"y":0.591},{"g":34,"x":217.5,"y":0.511},{"g":34,"x":237.5,"y":0.406},{"g":34,"x":257.5,"y":0.35},{"g":34,"x":277.5,"y":0.318},{"g":34,"x":297.5,"y":0.303},{"g":34,"x":317.5,"y":0.296},
{"g":35,"x":117.5,"y":1},{"g":35,"x":147.5,"y":0.99},{"g":35,"x":157.5,"y":0.95},{"g":35,"x":167.5,"y":0.846},{"g":35,"x":177.5,"y":0.742},{"g":35,"x":187.5,"y":0.634},{"g":35,"x":197.5,"y":0.534},{"g":35,"x":207.5,"y":0.442},{"g":35,"x":217.5,"y":0.374},{"g":35,"x":237.5,"y":0.286},{"g":35,"x":257.5,"y":0.238},{"g":35,"x":277.5,"y":0.212},{"g":35,"x":297.5,"y":0.2},{"g":35,"x":317.5,"y":0.194},
{"g":36,"x":117.5,"y":1},{"g":36,"x":127.5,"y":0.99},{"g":36,"x":137.5,"y":0.946},{"g":36,"x":147.5,"y":0.83},{"g":36,"x":157.5,"y":0.714},{"g":36,"x":167.5,"y":0.594},{"g":36,"x":177.5,"y":0.483},{"g":36,"x":187.5,"y":0.38},{"g":36,"x":197.5,"y":0.305},{"g":36,"x":207.5,"y":0.247},{"g":36,"x":217.5,"y":0.207},{"g":36,"x":237.5,"y":0.153},{"g":36,"x":257.5,"y":0.124},{"g":36,"x":277.5,"y":0.111},{"g":36,"x":297.5,"y":0.104},{"g":36,"x":317.5,"y":0.102},
{"g":37,"x":117.5,"y":1},{"g":37,"x":177.5,"y":0.99},{"g":37,"x":187.5,"y":0.969},{"g":37,"x":197.5,"y":0.93},{"g":37,"x":207.5,"y":0.875},{"g":37,"x":217.5,"y":0.819},{"g":37,"x":237.5,"y":0.705},{"g":37,"x":257.5,"y":0.601},{"g":37,"x":277.5,"y":0.515},{"g":37,"x":297.5,"y":0.456},{"g":37,"x":317.5,"y":0.419},
{"g":38,"x":117.5,"y":1},{"g":38,"x":187.5,"y":0.99},{"g":38,"x":197.5,"y":0.971},{"g":38,"x":207.5,"y":0.935},{"g":38,"x":217.5,"y":0.884},{"g":38,"x":237.5,"y":0.781},{"g":38,"x":257.5,"y":0.678},{"g":38,"x":277.5,"y":0.586},{"g":38,"x":297.5,"y":0.523},{"g":38,"x":317.5,"y":0.48},
{"g":39,"x":117.5,"y":1},{"g":39,"x":132.5,"y":0.99},{"g":39,"x":142.5,"y":0.943},{"g":39,"x":152.5,"y":0.822},{"g":39,"x":162.5,"y":0.7},{"g":39,"x":172.5,"y":0.574},{"g":39,"x":182.5,"y":0.457},{"g":39,"x":192.5,"y":0.35},{"g":39,"x":202.5,"y":0.27},{"g":39,"x":212.5,"y":0.209},{"g":39,"x":222.5,"y":0.167},{"g":39,"x":242.5,"y":0.111},{"g":39,"x":262.5,"y":0.08},{"g":39,"x":282.5,"y":0.066},{"g":39,"x":302.5,"y":0.06},{"g":39,"x":317.5,"y":0.058},
{"g":40,"x":117.5,"y":1},{"g":40,"x":142.5,"y":0.99},{"g":40,"x":152.5,"y":0.944},{"g":40,"x":162.5,"y":0.824},{"g":40,"x":172.5,"y":0.703},{"g":40,"x":182.5,"y":0.578},{"g":40,"x":192.5,"y":0.463},{"g":40,"x":202.5,"y":0.356},{"g":40,"x":212.5,"y":0.278},{"g":40,"x":222.5,"y":0.218},{"g":40,"x":242.5,"y":0.144},{"g":40,"x":262.5,"y":0.102},{"g":40,"x":282.5,"y":0.082},{"g":40,"x":302.5,"y":0.072},{"g":40,"x":317.5,"y":0.069},
{"g":41,"x":117.5,"y":1},{"g":41,"x":142.5,"y":0.99},{"g":41,"x":152.5,"y":0.945},{"g":41,"x":162.5,"y":0.829},{"g":41,"x":172.5,"y":0.713},{"g":41,"x":182.5,"y":0.592},{"g":41,"x":192.5,"y":0.48},{"g":41,"x":202.5,"y":0.377},{"g":41,"x":212.5,"y":0.301},{"g":41,"x":222.5,"y":0.243},{"g":41,"x":242.5,"y":0.171},{"g":41,"x":262.5,"y":0.131},{"g":41,"x":282.5,"y":0.111},{"g":41,"x":302.5,"y":0.102},{"g":41,"x":317.5,"y":0.099},
{"g":42,"x":117.5,"y":1},{"g":42,"x":152.5,"y":0.99},{"g":42,"x":162.5,"y":0.945},{"g":42,"x":172.5,"y":0.827},{"g":42,"x":182.5,"y":0.709},{"g":42,"x":192.5,"y":0.587},{"g":42,"x":202.5,"y":0.474},{"g":42,"x":212.5,"y":0.37},{"g":42,"x":222.5,"y":0.293},{"g":42,"x":242.5,"y":0.194},{"g":42,"x":262.5,"y":0.139},{"g":42,"x":282.5,"y":0.109},{"g":42,"x":302.5,"y":0.096},{"g":42,"x":317.5,"y":0.092},
{"g":43,"x":117.5,"y":1},{"g":43,"x":152.5,"y":0.99},{"g":43,"x":162.5,"y":0.947},{"g":43,"x":172.5,"y":0.833},{"g":43,"x":182.5,"y":0.72},{"g":43,"x":192.5,"y":0.603},{"g":43,"x":202.5,"y":0.494},{"g":43,"x":212.5,"y":0.394},{"g":43,"x":222.5,"y":0.32},{"g":43,"x":242.5,"y":0.224},{"g":43,"x":262.5,"y":0.172},{"g":43,"x":282.5,"y":0.143},{"g":43,"x":302.5,"y":0.13},{"g":43,"x":317.5,"y":0.126},
{"g":44,"x":117.5,"y":1},{"g":44,"x":132.5,"y":0.99},{"g":44,"x":142.5,"y":0.961},{"g":44,"x":152.5,"y":0.909},{"g":44,"x":162.5,"y":0.833},{"g":44,"x":172.5,"y":0.758},{"g":44,"x":182.5,"y":0.681},{"g":44,"x":192.5,"y":0.603},{"g":44,"x":202.5,"y":0.53},{"g":44,"x":212.5,"y":0.461},{"g":44,"x":222.5,"y":0.394},{"g":44,"x":242.5,"y":0.301},{"g":44,"x":262.5,"y":0.237},{"g":44,"x":282.5,"y":0.194},{"g":44,"x":302.5,"y":0.166},{"g":44,"x":317.5,"y":0.152},
{"g":45,"x":117.5,"y":1},{"g":45,"x":142.5,"y":0.99},{"g":45,"x":152.5,"y":0.962},{"g":45,"x":162.5,"y":0.912},{"g":45,"x":172.5,"y":0.839},{"g":45,"x":182.5,"y":0.766},{"g":45,"x":192.5,"y":0.692},{"g":45,"x":202.5,"y":0.616},{"g":45,"x":212.5,"y":0.546},{"g":45,"x":222.5,"y":0.479},{"g":45,"x":242.5,"y":0.367},{"g":45,"x":262.5,"y":0.289},{"g":45,"x":282.5,"y":0.241},{"g":45,"x":302.5,"y":0.207},{"g":45,"x":317.5,"y":0.19},
{"g":46,"x":117.5,"y":1},{"g":46,"x":162.5,"y":0.99},{"g":46,"x":172.5,"y":0.949},{"g":46,"x":182.5,"y":0.841},{"g":46,"x":192.5,"y":0.733},{"g":46,"x":202.5,"y":0.621},{"g":46,"x":212.5,"y":0.517},{"g":46,"x":222.5,"y":0.421},{"g":46,"x":242.5,"y":0.297},{"g":46,"x":262.5,"y":0.231},{"g":46,"x":282.5,"y":0.193},{"g":46,"x":302.5,"y":0.175},{"g":46,"x":317.5,"y":0.169},
{"g":47,"x":117.5,"y":1},{"g":47,"x":142.5,"y":0.99},{"g":47,"x":152.5,"y":0.948},{"g":47,"x":162.5,"y":0.837},{"g":47,"x":172.5,"y":0.727},{"g":47,"x":182.5,"y":0.612},{"g":47,"x":192.5,"y":0.506},{"g":47,"x":202.5,"y":0.408},{"g":47,"x":212.5,"y":0.336},{"g":47,"x":222.5,"y":0.28},{"g":47,"x":242.5,"y":0.212},{"g":47,"x":262.5,"y":0.174},{"g":47,"x":282.5,"y":0.155},{"g":47,"x":302.5,"y":0.147},{"g":47,"x":317.5,"y":0.144},
{"g":48,"x":117.5,"y":1},{"g":48,"x":172.5,"y":0.99},{"g":48,"x":182.5,"y":0.951},{"g":48,"x":192.5,"y":0.848},{"g":48,"x":202.5,"y":0.745},{"g":48,"x":212.5,"y":0.638},{"g":48,"x":222.5,"y":0.54},{"g":48,"x":242.5,"y":0.382},{"g":48,"x":262.5,"y":0.295},{"g":48,"x":282.5,"y":0.247},{"g":48,"x":302.5,"y":0.221},{"g":48,"x":317.5,"y":0.212},
{"g":49,"x":117.5,"y":1},{"g":49,"x":142.5,"y":0.99},{"g":49,"x":152.5,"y":0.96},{"g":49,"x":162.5,"y":0.906},{"g":49,"x":172.5,"y":0.828},{"g":49,"x":182.5,"y":0.75},{"g":49,"x":192.5,"y":0.671},{"g":49,"x":202.5,"y":0.59},{"g":49,"x":212.5,"y":0.514},{"g":49,"x":222.5,"y":0.443},{"g":49,"x":242.5,"y":0.322},{"g":49,"x":262.5,"y":0.239},{"g":49,"x":282.5,"y":0.187},{"g":49,"x":302.5,"y":0.151},{"g":49,"x":317.5,"y":0.132},
{"g":50,"x":117.5,"y":1},{"g":50,"x":152.5,"y":0.99},{"g":50,"x":162.5,"y":0.944},{"g":50,"x":172.5,"y":0.824},{"g":50,"x":182.5,"y":0.705},{"g":50,"x":192.5,"y":0.581},{"g":50,"x":202.5,"y":0.466},{"g":50,"x":212.5,"y":0.36},{"g":50,"x":222.5,"y":0.282},{"g":50,"x":242.5,"y":0.18},{"g":50,"x":262.5,"y":0.125},{"g":50,"x":282.5,"y":0.095},{"g":50,"x":302.5,"y":0.081},{"g":50,"x":317.5,"y":0.077},
{"g":51,"x":117.5,"y":1},{"g":51,"x":162.5,"y":0.99},{"g":51,"x":172.5,"y":0.961},{"g":51,"x":182.5,"y":0.909},{"g":51,"x":192.5,"y":0.833},{"g":51,"x":202.5,"y":0.758},{"g":51,"x":212.5,"y":0.681},{"g":51,"x":222.5,"y":0.603},{"g":51,"x":242.5,"y":0.461},{"g":51,"x":262.5,"y":0.344},{"g":51,"x":282.5,"y":0.264},{"g":51,"x":302.5,"y":0.214},{"g":51,"x":317.5,"y":0.188},
{"g":52,"x":117.5,"y":1},{"g":52,"x":152.5,"y":0.99},{"g":52,"x":162.5,"y":0.95},{"g":52,"x":172.5,"y":0.846},{"g":52,"x":182.5,"y":0.742},{"g":52,"x":192.5,"y":0.634},{"g":52,"x":202.5,"y":0.534},{"g":52,"x":212.5,"y":0.442},{"g":52,"x":222.5,"y":0.374},{"g":52,"x":242.5,"y":0.286},{"g":52,"x":262.5,"y":0.238},{"g":52,"x":282.5,"y":0.212},{"g":52,"x":302.5,"y":0.2},{"g":52,"x":317.5,"y":0.196},
{"g":53,"x":117.5,"y":1},{"g":53,"x":162.5,"y":0.99},{"g":53,"x":172.5,"y":0.965},{"g":53,"x":182.5,"y":0.918},{"g":53,"x":192.5,"y":0.851},{"g":53,"x":202.5,"y":0.784},{"g":53,"x":212.5,"y":0.717},{"g":53,"x":222.5,"y":0.647},{"g":53,"x":242.5,"y":0.522},{"g":53,"x":262.5,"y":0.419},{"g":53,"x":282.5,"y":0.347},{"g":53,"x":302.5,"y":0.303},{"g":53,"x":317.5,"y":0.28},
{"g":54,"x":117.5,"y":1},{"g":54,"x":162.5,"y":0.99},{"g":54,"x":172.5,"y":0.954},{"g":54,"x":182.5,"y":0.859},{"g":54,"x":192.5,"y":0.764},{"g":54,"x":202.5,"y":0.665},{"g":54,"x":212.5,"y":0.574},{"g":54,"x":222.5,"y":0.49},{"g":54,"x":242.5,"y":0.38},{"g":54,"x":262.5,"y":0.322},{"g":54,"x":282.5,"y":0.289},{"g":54,"x":302.5,"y":0.273},{"g":54,"x":317.5,"y":0.268},
{"g":55,"x":117.5,"y":1},{"g":55,"x":152.5,"y":0.99},{"g":55,"x":162.5,"y":0.968},{"g":55,"x":172.5,"y":0.946},{"g":55,"x":182.5,"y":0.888},{"g":55,"x":192.5,"y":0.83},{"g":55,"x":202.5,"y":0.772},{"g":55,"x":212.5,"y":0.714},{"g":55,"x":222.5,"y":0.652},{"g":55,"x":242.5,"y":0.536},{"g":55,"x":262.5,"y":0.429},{"g":55,"x":282.5,"y":0.34},{"g":55,"x":302.5,"y":0.275},{"g":55,"x":317.5,"y":0.238},
{"g":56,"x":117.5,"y":1},{"g":56,"x":152.5,"y":0.99},{"g":56,"x":162.5,"y":0.964},{"g":56,"x":172.5,"y":0.916},{"g":56,"x":182.5,"y":0.846},{"g":56,"x":192.5,"y":0.776},{"g":56,"x":202.5,"y":0.706},{"g":56,"x":212.5,"y":0.634},{"g":56,"x":222.5,"y":0.567},{"g":56,"x":242.5,"y":0.442},{"g":56,"x":262.5,"y":0.356},{"g":56,"x":282.5,"y":0.298},{"g":56,"x":302.5,"y":0.258},{"g":56,"x":317.5,"y":0.238},
{"g":57,"x":117.5,"y":1},{"g":57,"x":132.5,"y":0.99},{"g":57,"x":142.5,"y":0.946},{"g":57,"x":152.5,"y":0.83},{"g":57,"x":162.5,"y":0.714},{"g":57,"x":172.5,"y":0.594},{"g":57,"x":182.5,"y":0.483},{"g":57,"x":192.5,"y":0.38},{"g":57,"x":202.5,"y":0.305},{"g":57,"x":212.5,"y":0.247},{"g":57,"x":222.5,"y":0.207},{"g":57,"x":242.5,"y":0.153},{"g":57,"x":262.5,"y":0.124},{"g":57,"x":282.5,"y":0.111},{"g":57,"x":302.5,"y":0.104},{"g":57,"x":317.5,"y":0.102},
{"g":58,"x":117.5,"y":1},{"g":58,"x":132.5,"y":0.99},{"g":58,"x":142.5,"y":0.944},{"g":58,"x":152.5,"y":0.825},{"g":58,"x":162.5,"y":0.706},{"g":58,"x":172.5,"y":0.583},{"g":58,"x":182.5,"y":0.468},{"g":58,"x":192.5,"y":0.363},{"g":58,"x":202.5,"y":0.285},{"g":58,"x":212.5,"y":0.226},{"g":58,"x":222.5,"y":0.185},{"g":58,"x":242.5,"y":0.13},{"g":58,"x":262.5,"y":0.1},{"g":58,"x":282.5,"y":0.086},{"g":58,"x":302.5,"y":0.08},{"g":58,"x":317.5,"y":0.078},
{"g":59,"x":117.5,"y":1},{"g":59,"x":182.5,"y":0.99},{"g":59,"x":192.5,"y":0.966},{"g":59,"x":202.5,"y":0.921},{"g":59,"x":212.5,"y":0.857},{"g":59,"x":222.5,"y":0.792},{"g":59,"x":242.5,"y":0.661},{"g":59,"x":262.5,"y":0.54},{"g":59,"x":282.5,"y":0.441},{"g":59,"x":302.5,"y":0.372},{"g":59,"x":317.5,"y":0.34},
{"g":60,"x":117.5,"y":1},{"g":60,"x":172.5,"y":0.99},{"g":60,"x":182.5,"y":0.969},{"g":60,"x":192.5,"y":0.948},{"g":60,"x":202.5,"y":0.893},{"g":60,"x":212.5,"y":0.839},{"g":60,"x":222.5,"y":0.784},{"g":60,"x":242.5,"y":0.671},{"g":60,"x":262.5,"y":0.562},{"g":60,"x":282.5,"y":0.461},{"g":60,"x":302.5,"y":0.377},{"g":60,"x":317.5,"y":0.33},
{"g":61,"x":117.5,"y":1},{"g":61,"x":192.5,"y":0.99},{"g":61,"x":202.5,"y":0.967},{"g":61,"x":212.5,"y":0.926},{"g":61,"x":222.5,"y":0.866},{"g":61,"x":242.5,"y":0.745},{"g":61,"x":262.5,"y":0.625},{"g":61,"x":282.5,"y":0.517},{"g":61,"x":302.5,"y":0.444},{"g":61,"x":317.5,"y":0.405},
{"g":62,"x":117.5,"y":1},{"g":62,"x":182.5,"y":0.99},{"g":62,"x":192.5,"y":0.97},{"g":62,"x":202.5,"y":0.951},{"g":62,"x":212.5,"y":0.899},{"g":62,"x":222.5,"y":0.848},{"g":62,"x":242.5,"y":0.745},{"g":62,"x":262.5,"y":0.638},{"g":62,"x":282.5,"y":0.54},{"g":62,"x":302.5,"y":0.449},{"g":62,"x":317.5,"y":0.398},
{"g":63,"x":117.5,"y":1},{"g":63,"x":172.5,"y":0.99},{"g":63,"x":182.5,"y":0.963},{"g":63,"x":192.5,"y":0.914},{"g":63,"x":202.5,"y":0.842},{"g":63,"x":212.5,"y":0.771},{"g":63,"x":222.5,"y":0.699},{"g":63,"x":242.5,"y":0.556},{"g":63,"x":262.5,"y":0.428},{"g":63,"x":282.5,"y":0.341},{"g":63,"x":302.5,"y":0.281},{"g":63,"x":317.5,"y":0.25},
{"g":64,"x":117.5,"y":1},{"g":64,"x":182.5,"y":0.99},{"g":64,"x":192.5,"y":0.956},{"g":64,"x":202.5,"y":0.866},{"g":64,"x":212.5,"y":0.776},{"g":64,"x":222.5,"y":0.683},{"g":64,"x":242.5,"y":0.517},{"g":64,"x":262.5,"y":0.414},{"g":64,"x":282.5,"y":0.359},{"g":64,"x":302.5,"y":0.328},{"g":64,"x":317.5,"y":0.316},
{"g":65,"x":117.5,"y":1},{"g":65,"x":162.5,"y":0.99},{"g":65,"x":172.5,"y":0.955},{"g":65,"x":182.5,"y":0.864},{"g":65,"x":192.5,"y":0.773},{"g":65,"x":202.5,"y":0.679},{"g":65,"x":212.5,"y":0.591},{"g":65,"x":222.5,"y":0.511},{"g":65,"x":242.5,"y":0.406},{"g":65,"x":262.5,"y":0.35},{"g":65,"x":282.5,"y":0.318},{"g":65,"x":302.5,"y":0.303},{"g":65,"x":317.5,"y":0.298}
]
},
"encoding":{
"x":{"field":"x","type":"quantitative","scale":{"domain":[0,333],"nice":false,"zero":false},
"axis":{"title":"Length Class (cm)","values":[0,50,100,150,200,250,300],"labelExpr":"datum.value % 100 === 0 ? datum.label : ''","tickOpacity":{"condition":{"test":"datum.value % 100 === 0","value":1},"value":0},"gridWidth":{"condition":{"test":"datum.value % 100 === 0","value":1.4},"value":0.7},"labelPadding":4,"titlePadding":6}},
"y":{"field":"y","type":"quantitative","scale":{"domain":[0,1.05],"nice":false,"zero":false},
"axis":{"title":"Probablity","values":[0,0.125,0.25,0.375,0.5,0.625,0.75,0.875,1],"format":".2f","labelExpr":"(datum.value*4) % 1 === 0 ? datum.label : ''","tickOpacity":{"condition":{"test":"(datum.value*4) % 1 === 0","value":1},"value":0},"gridWidth":{"condition":{"test":"(datum.value*4) % 1 === 0","value":1.4},"value":0.7},"labelPadding":4,"titlePadding":9}},
"detail":{"field":"g","type":"nominal"}
},
"layer":[
{"data":{"name":"ret"},"mark":{"type":"line","strokeWidth":2.5,"interpolate":"linear"},
"encoding":{"color":{"datum":"Retained","type":"nominal","title":"Key","scale":{"domain":["Retained","Selected"],"range":["#F8766D","#00BFC4"]},
"legend":{"orient":"none","legendX":975,"legendY":364,"padding":0,"titleFontSize":22,"titleFont":"Liberation Sans","titleFontWeight":"normal","titleColor":"#000000","titlePadding":11,"labelFontSize":18,"labelFont":"Liberation Sans","labelColor":"#1a1a1a","labelOffset":14,"symbolType":"stroke","symbolSize":800,"symbolStrokeWidth":2,"rowPadding":12}}}},
{"data":{"name":"left"},"mark":{"type":"line","strokeWidth":2.2,"interpolate":"linear"},"encoding":{"color":{"datum":"Selected","type":"nominal"}}},
{"data":{"name":"full"},"mark":{"type":"line","strokeWidth":2.2,"interpolate":"monotone"},"encoding":{"color":{"datum":"Selected","type":"nominal"}}},
{"data":{"name":"right"},"mark":{"type":"line","strokeWidth":2.2,"interpolate":"monotone"},"encoding":{"color":{"datum":"Selected","type":"nominal"}}}
]
}
